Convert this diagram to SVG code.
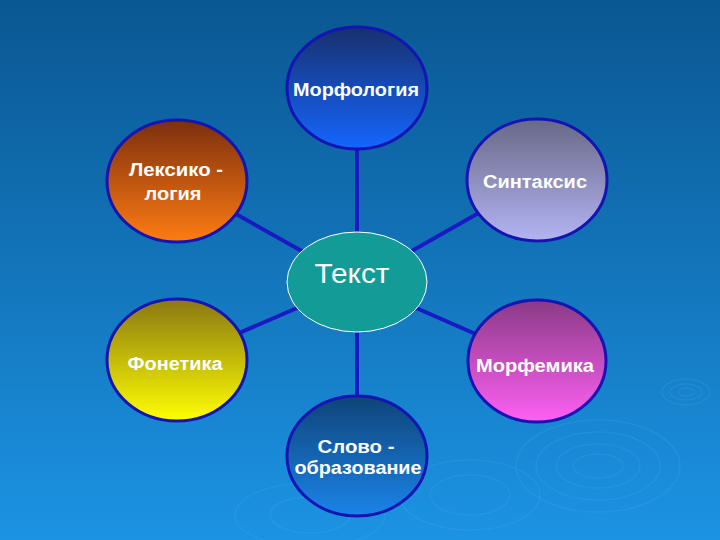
<svg xmlns="http://www.w3.org/2000/svg" width="720" height="540" viewBox="0 0 720 540">
<defs>
<linearGradient id="bg" x1="0" y1="0" x2="0" y2="1"><stop offset="0" stop-color="#0a5792"/><stop offset="1" stop-color="#1c93e3"/></linearGradient>
<linearGradient id="gMorf" x1="0" y1="0" x2="0" y2="1"><stop offset="0" stop-color="#17306e"/><stop offset="1" stop-color="#1466ff"/></linearGradient>
<linearGradient id="gLex" x1="0" y1="0" x2="0" y2="1"><stop offset="0" stop-color="#7c2e0e"/><stop offset="1" stop-color="#ff7c12"/></linearGradient>
<linearGradient id="gSin" x1="0" y1="0" x2="0" y2="1"><stop offset="0" stop-color="#686886"/><stop offset="1" stop-color="#b4b4f4"/></linearGradient>
<linearGradient id="gFon" x1="0" y1="0" x2="0" y2="1"><stop offset="0" stop-color="#8a7812"/><stop offset="1" stop-color="#ffff00"/></linearGradient>
<linearGradient id="gMfm" x1="0" y1="0" x2="0" y2="1"><stop offset="0" stop-color="#8a3a86"/><stop offset="1" stop-color="#ff60f4"/></linearGradient>
<linearGradient id="gSlo" x1="0" y1="0" x2="0" y2="1"><stop offset="0" stop-color="#0e4478"/><stop offset="1" stop-color="#1a84ea"/></linearGradient>
</defs>
<style>
.outer{stroke:#1414b4;stroke-width:3}
.lbl{font-family:"Liberation Sans",Arial,sans-serif;font-size:18px;font-weight:bold;fill:#ffffff;text-anchor:middle}
.conn line{stroke:#1a1ac4;stroke-width:4}
.rip{fill:none;stroke:#5ab4f0;stroke-opacity:0.16;stroke-width:1.5}
</style>
<rect width="720" height="540" fill="url(#bg)"/>
<g id="ripples">
<ellipse class="rip" cx="686" cy="392" rx="8" ry="4"/>
<ellipse class="rip" cx="686" cy="392" rx="16" ry="8"/>
<ellipse class="rip" cx="686" cy="392" rx="24" ry="13"/>
<ellipse class="rip" cx="598" cy="466" rx="25" ry="12"/>
<ellipse class="rip" cx="598" cy="466" rx="42" ry="22"/>
<ellipse class="rip" cx="598" cy="466" rx="62" ry="34"/>
<ellipse class="rip" cx="598" cy="466" rx="82" ry="46"/>
<ellipse class="rip" cx="470" cy="495" rx="40" ry="20"/>
<ellipse class="rip" cx="470" cy="495" rx="70" ry="35"/>
<ellipse class="rip" cx="310" cy="515" rx="40" ry="18"/>
<ellipse class="rip" cx="310" cy="515" rx="75" ry="32"/>
</g>
<g class="conn" id="connectors">
<line x1="357" y1="88" x2="357" y2="282"/>
<line x1="357" y1="282" x2="357" y2="456"/>
<line x1="177" y1="181" x2="357" y2="282"/>
<line x1="537" y1="180" x2="357" y2="282"/>
<line x1="177" y1="360" x2="357" y2="282"/>
<line x1="537" y1="361" x2="357" y2="282"/>
</g>
<g id="morfologia">
<ellipse class="outer" cx="357" cy="88" rx="70" ry="61" fill="url(#gMorf)"/>
<text class="lbl" x="356" y="96" textLength="126" lengthAdjust="spacingAndGlyphs">Морфология</text>
</g>
<g id="leksikologia">
<ellipse class="outer" cx="177" cy="181" rx="70" ry="61" fill="url(#gLex)"/>
<text class="lbl" x="176" y="176" textLength="94" lengthAdjust="spacingAndGlyphs">Лексико -</text>
<text class="lbl" x="173" y="200" textLength="57" lengthAdjust="spacingAndGlyphs">логия</text>
</g>
<g id="sintaksis">
<ellipse class="outer" cx="537" cy="180" rx="70" ry="61" fill="url(#gSin)"/>
<text class="lbl" x="535" y="188" textLength="104" lengthAdjust="spacingAndGlyphs">Синтаксис</text>
</g>
<g id="tekst">
<ellipse cx="357" cy="282" rx="70" ry="50" fill="#139b97" stroke="#ffffff" stroke-width="1"/>
<text x="352" y="283" font-family="'Liberation Sans',Arial,sans-serif" font-size="28" fill="#ffffff" text-anchor="middle" textLength="75" lengthAdjust="spacingAndGlyphs">Текст</text>
</g>
<g id="fonetika">
<ellipse class="outer" cx="177" cy="360" rx="70" ry="61" fill="url(#gFon)"/>
<text class="lbl" x="175" y="370" textLength="95" lengthAdjust="spacingAndGlyphs" fill="#f4f4e0">Фонетика</text>
</g>
<g id="morfemika">
<ellipse class="outer" cx="537" cy="361" rx="69" ry="61" fill="url(#gMfm)"/>
<text class="lbl" x="535" y="372" textLength="118" lengthAdjust="spacingAndGlyphs">Морфемика</text>
</g>
<g id="slovoobrazovanie">
<ellipse class="outer" cx="357" cy="456" rx="70" ry="60" fill="url(#gSlo)"/>
<text class="lbl" x="356" y="453" textLength="77" lengthAdjust="spacingAndGlyphs">Слово -</text>
<text class="lbl" x="358" y="474" textLength="127" lengthAdjust="spacingAndGlyphs">образование</text>
</g>
</svg>
